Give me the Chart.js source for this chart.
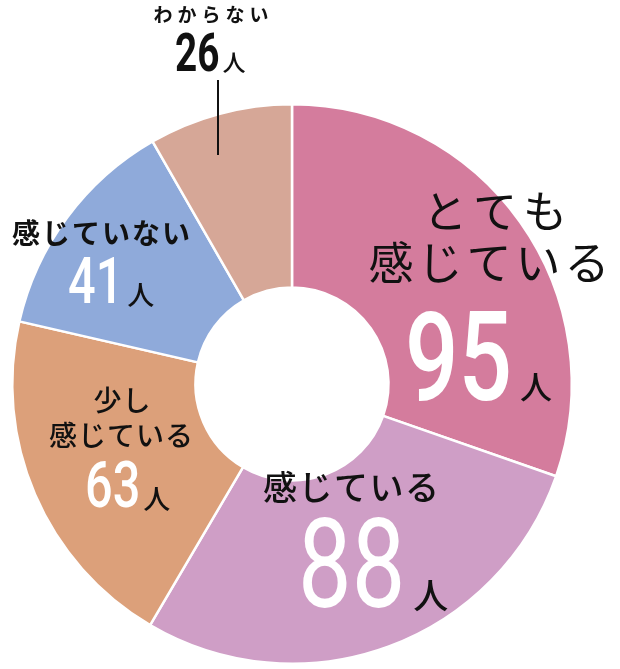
<!DOCTYPE html>
<html lang="ja">
<head>
<meta charset="utf-8">
<script src="https://cdn.jsdelivr.net/npm/chart.js@4.4.1/dist/chart.umd.min.js"></script>
<style>
    html, body { margin: 0; padding: 0; background: #fff; }
    #wrap { width: 620px; height: 669px; }
</style>
</head>
<body>
<div id="wrap"><canvas id="donutChart" width="620" height="669"></canvas></div>
<script>
// Data
const categories = ['とても感じている', '感じている', '少し感じている', '感じていない', 'わからない'];
const counts = [95, 88, 63, 41, 26];
const unitLabel = '人';

const sliceColors = ['#d47c9d', '#cf9ec6', '#dca07a', '#8faada', '#d6a797'];

// Label lines drawn for each slice (same order as categories)
const labelLines = [
    ['とても', '感じている'],
    ['感じている'],
    ['少し', '感じている'],
    ['感じていない'],
    ['わからない']
];

// Label layout: text lines (center x, middle y, size, weight, advance) and number (left, baseline, size...)
const labelLayout = [
    {
        lines: [
            { x: 495, y: 211, size: 44, weight: 400, adv: 50 },
            { x: 489, y: 263, size: 45, weight: 400, adv: 49 }
        ],
        num: { x: 405, y: 400, size: 124, weight: 500, sx: 0.76, color: '#fff' },
        unit: { size: 32, gap: 8, dy: -1 }
    },
    {
        lines: [ { x: 351, y: 487, size: 34, weight: 500, adv: 35.5 } ],
        num: { x: 298, y: 607, size: 124, weight: 400, sx: 0.77, color: '#fff' },
        unit: { size: 35, gap: 8, dy: 2 }
    },
    {
        lines: [
            { x: 122, y: 400, size: 28, weight: 500, adv: 29 },
            { x: 121, y: 435, size: 28, weight: 500, adv: 29 }
        ],
        num: { x: 85, y: 507, size: 64, weight: 500, sx: 0.76, color: '#fff' },
        unit: { size: 27, gap: 3, dy: 2 }
    },
    {
        lines: [ { x: 101, y: 233, size: 28, weight: 700, adv: 30 } ],
        num: { x: 68, y: 303, size: 64, weight: 500, sx: 0.76, color: '#fff' },
        unit: { size: 27, gap: 4, dy: 2 }
    },
    {
        lines: [ { x: 211, y: 15, size: 19, weight: 700, adv: 24 } ],
        num: { x: 175, y: 71, size: 53, weight: 700, sx: 0.73, color: '#111' },
        unit: { size: 23, gap: 3, dy: 0 },
        leader: { x: 218, y1: 80, y2: 155 }
    }
];

const jpFont = '"Noto Sans CJK JP", "Noto Sans", sans-serif';
const numFont = 'Roboto, "Liberation Sans", sans-serif';

// Draw a line of Japanese text char by char with fixed advance
function drawSpacedText(ctx, text, cx, cy, size, weight, adv) {
    const chars = Array.from(text);
    ctx.font = weight + ' ' + size + 'px ' + jpFont;
    ctx.textBaseline = 'middle';
    ctx.textAlign = 'center';
    ctx.fillStyle = '#111';
    const total = adv * (chars.length - 1);
    chars.forEach((ch, i) => {
        ctx.fillText(ch, cx - total / 2 + i * adv, cy);
    });
}

const labelPlugin = {
    id: 'sliceLabels',
    afterDraw(chart) {
        const ctx = chart.ctx;
        const values = chart.data.datasets[0].data;
        ctx.save();
        labelLayout.forEach((lay, i) => {
            labelLines[i].forEach((txt, j) => {
                const l = lay.lines[j];
                drawSpacedText(ctx, txt, l.x, l.y, l.size, l.weight, l.adv);
            });

            // condensed number
            const n = lay.num;
            const numText = String(values[i]);
            ctx.font = n.weight + ' ' + n.size + 'px ' + numFont;
            ctx.textAlign = 'left';
            ctx.textBaseline = 'alphabetic';
            const w = ctx.measureText(numText).width * n.sx;
            ctx.save();
            ctx.translate(n.x, n.y);
            ctx.scale(n.sx, 1);
            ctx.fillStyle = n.color;
            ctx.fillText(numText, 0, 0);
            ctx.restore();

            // unit
            ctx.font = '500 ' + lay.unit.size + 'px ' + jpFont;
            ctx.fillStyle = '#111';
            ctx.fillText(unitLabel, n.x + w + lay.unit.gap, n.y + lay.unit.dy);

            if (lay.leader) {
                ctx.beginPath();
                ctx.strokeStyle = '#111';
                ctx.lineWidth = 2;
                ctx.moveTo(lay.leader.x, lay.leader.y1);
                ctx.lineTo(lay.leader.x, lay.leader.y2);
                ctx.stroke();
            }
        });
        ctx.restore();
    }
};

const ctx = document.getElementById('donutChart').getContext('2d');
const donutChart = new Chart(ctx, {
    type: 'doughnut',
    data: {
        labels: categories,
        datasets: [{
            data: counts,
            backgroundColor: sliceColors,
            borderColor: '#ffffff',
            borderWidth: 2.5
        }]
    },
    options: {
        responsive: false,
        animation: false,
        cutout: '34.5%',
        rotation: 0,
        layout: {
            padding: { left: 11, right: 47, top: 103, bottom: 4 }
        },
        plugins: {
            legend: { display: false },
            tooltip: { enabled: false }
        }
    },
    plugins: [labelPlugin]
});
</script>
</body>
</html>
